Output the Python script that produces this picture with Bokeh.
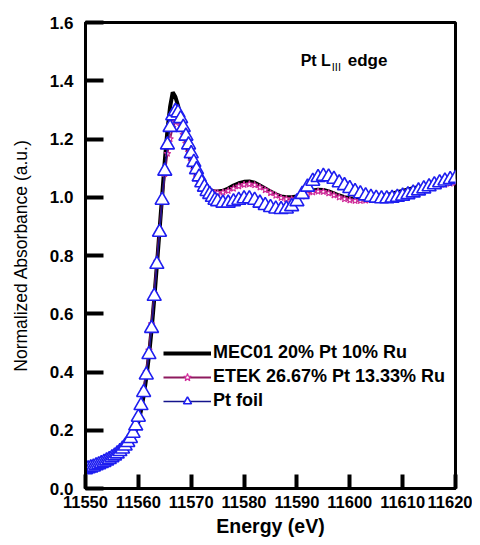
from bokeh.plotting import figure
from bokeh.models import Range1d, FixedTicker, PrintfTickFormatter, Label, Legend, LegendItem
from bokeh.embed import file_html
from bokeh.resources import INLINE

# ---- data ----
energy_fine = [11550.0, 11550.5, 11551.0, 11551.5, 11552.0, 11552.5, 11553.0, 11553.5, 11554.0, 11554.5,
               11555.0, 11555.5, 11556.0, 11556.5, 11557.0, 11557.5, 11558.0, 11558.5, 11559.0, 11559.5,
               11560.0, 11560.5, 11561.0, 11561.5, 11562.0, 11562.5, 11563.0, 11563.5, 11564.0, 11564.5,
               11565.0, 11565.5, 11566.0, 11566.5, 11567.0, 11567.5, 11568.0, 11568.5, 11569.0, 11569.5,
               11570.0, 11570.5, 11571.0, 11571.5, 11572.0, 11572.5, 11573.0, 11573.5, 11574.0, 11574.5,
               11575.0]
energy_coarse = [11576, 11577, 11578, 11579, 11580, 11581, 11582, 11583, 11584, 11585,
                 11586, 11587, 11588, 11589, 11590, 11591, 11592, 11593, 11594, 11595,
                 11596, 11597, 11598, 11599, 11600, 11601, 11602, 11603, 11604, 11605,
                 11606, 11607, 11608, 11609, 11610, 11611, 11612, 11613, 11614, 11615,
                 11616, 11617, 11618, 11619, 11620]

mec01_fine = [0.058, 0.061, 0.064, 0.067, 0.070, 0.074, 0.078, 0.082, 0.086, 0.091,
              0.096, 0.102, 0.108, 0.115, 0.123, 0.133, 0.145, 0.159, 0.176, 0.198,
              0.228, 0.268, 0.318, 0.38, 0.455, 0.545, 0.65, 0.765, 0.885, 1.005,
              1.125, 1.23, 1.31, 1.36, 1.345, 1.315, 1.275, 1.23, 1.19, 1.15,
              1.12, 1.095, 1.075, 1.058, 1.045, 1.036, 1.03, 1.025, 1.022, 1.02,
              1.02]
mec01_coarse = [1.022, 1.03, 1.04, 1.048, 1.053, 1.054, 1.05, 1.04, 1.03, 1.02,
                1.01, 1.003, 1.0, 1.0, 1.003, 1.01, 1.018, 1.023, 1.026, 1.025,
                1.02, 1.013, 1.006, 1.0, 0.997, 0.995, 0.995, 0.996, 0.998, 1.0,
                1.003, 1.007, 1.012, 1.017, 1.022, 1.027, 1.031, 1.034, 1.037, 1.04,
                1.043, 1.046, 1.05, 1.053, 1.056]

etek_fine = [0.062, 0.065, 0.068, 0.071, 0.075, 0.079, 0.083, 0.087, 0.092, 0.097,
             0.103, 0.109, 0.116, 0.124, 0.133, 0.144, 0.157, 0.172, 0.192, 0.218,
             0.25, 0.29, 0.34, 0.40, 0.475, 0.565, 0.67, 0.78, 0.89, 0.99,
             1.08, 1.15, 1.20, 1.24, 1.26, 1.26, 1.245, 1.215, 1.185, 1.155,
             1.125, 1.095, 1.07, 1.052, 1.04, 1.031, 1.025, 1.02, 1.017, 1.015,
             1.015]
etek_coarse = [1.017, 1.022, 1.03, 1.038, 1.043, 1.045, 1.042, 1.034, 1.025, 1.015,
               1.006, 0.998, 0.994, 0.993, 0.996, 1.003, 1.011, 1.017, 1.02, 1.019,
               1.014, 1.007, 1.0, 0.994, 0.99, 0.988, 0.988, 0.989, 0.991, 0.994,
               0.997, 1.001, 1.006, 1.011, 1.016, 1.021, 1.025, 1.029, 1.032, 1.035,
               1.038, 1.041, 1.044, 1.047, 1.05]

ptfoil_fine = [0.065, 0.068, 0.071, 0.074, 0.078, 0.082, 0.086, 0.090, 0.095, 0.100,
               0.106, 0.112, 0.119, 0.127, 0.136, 0.146, 0.158, 0.172, 0.19, 0.215,
               0.245, 0.285, 0.33, 0.39, 0.46, 0.55, 0.66, 0.77, 0.88, 0.99,
               1.09, 1.18, 1.24, 1.28, 1.295, 1.29, 1.27, 1.24, 1.21, 1.18,
               1.15, 1.12, 1.095, 1.07, 1.05, 1.035, 1.02, 1.01, 1.0, 0.99,
               0.985]
ptfoil_coarse = [0.98, 0.98, 0.985, 0.99, 0.995, 0.995, 0.99, 0.98, 0.972, 0.965,
                 0.96, 0.958, 0.96, 0.968, 0.985, 1.01, 1.035, 1.055, 1.068, 1.072,
                 1.07, 1.062, 1.05, 1.04, 1.03, 1.02, 1.012, 1.005, 1.0, 0.997,
                 0.995, 0.995, 0.997, 1.0, 1.004, 1.009, 1.015, 1.022, 1.029, 1.036,
                 1.043, 1.05, 1.056, 1.061, 1.065]

x_ticks = [11550, 11560, 11570, 11580, 11590, 11600, 11610, 11620]
y_ticks = [0.0, 0.2, 0.4, 0.6, 0.8, 1.0, 1.2, 1.4, 1.6]
series_names = ["MEC01 20% Pt 10% Ru", "ETEK 26.67% Pt 13.33% Ru", "Pt foil"]

energy = energy_fine + energy_coarse
mec01 = mec01_fine + mec01_coarse
etek = etek_fine + etek_coarse
ptfoil = ptfoil_fine + ptfoil_coarse

FONT = "Liberation Sans"

p = figure(frame_width=370, frame_height=466, output_backend="svg", toolbar_location=None,
           x_range=Range1d(11550, 11620), y_range=Range1d(0, 1.6),
           min_border_left=85, min_border_top=22, min_border_right=17, min_border_bottom=52,
           background_fill_color="white", border_fill_color="white")
p.grid.visible = False
p.outline_line_color = "black"
p.outline_line_width = 3

for ax in (p.xaxis[0], p.yaxis[0]):
    ax.axis_line_width = 3
    ax.axis_line_color = "black"
    ax.major_tick_line_width = 4
    ax.major_tick_line_color = "black"
    ax.major_tick_out = 0
    ax.minor_tick_line_color = None
    ax.major_label_text_font = FONT
    ax.major_label_text_font_style = "bold"
    ax.major_label_text_color = "black"
    ax.axis_label_text_font = FONT
    ax.axis_label_text_color = "black"

p.xaxis.major_label_text_font_size = "16.5px"
p.yaxis.major_label_text_font_size = "17px"
p.xaxis.ticker = FixedTicker(ticks=x_ticks)
p.yaxis.ticker = FixedTicker(ticks=y_ticks)
p.xaxis.formatter = PrintfTickFormatter(format="%d")
p.yaxis.formatter = PrintfTickFormatter(format="%.1f")
p.yaxis.major_tick_in = 18
p.xaxis.major_tick_in = 14
p.yaxis.major_label_standoff = 12
p.xaxis.major_label_standoff = 7
p.xaxis.axis_label = "Energy (eV)"
p.yaxis.axis_label = "Normalized Absorbance (a.u.)"
p.xaxis.axis_label_text_font_style = "bold"
p.xaxis.axis_label_text_font_size = "19.5px"
p.yaxis.axis_label_text_font_style = "normal"
p.yaxis.axis_label_text_font_size = "17.5px"
p.xaxis.axis_label_standoff = 4
p.yaxis.axis_label_standoff = 16

r_mec = p.line(energy, mec01, line_color="black", line_width=4)
r_etek_l = p.line(energy, etek, line_color="#8e1a5e", line_width=2)
r_etek_m = p.scatter(energy, etek, marker="star", size=7, line_color="#d02a9a",
                     fill_color="white", line_width=1.1)
r_pt_l = p.line(energy, ptfoil, line_color="#14148c", line_width=1.5)
r_pt_m = p.scatter(energy, ptfoil, marker="triangle", size=14, line_color="#1e1ef0",
                   fill_color="white", line_width=1.6)

legend = Legend(items=[LegendItem(label=series_names[0], renderers=[r_mec]),
                       LegendItem(label=series_names[1], renderers=[r_etek_l, r_etek_m]),
                       LegendItem(label=series_names[2], renderers=[r_pt_l, r_pt_m])],
                location=(78, 77), padding=0, margin=0, spacing=3,
                label_height=20, glyph_height=20, glyph_width=48, label_standoff=2,
                border_line_alpha=0, background_fill_alpha=0,
                label_text_font=FONT, label_text_font_style="bold",
                label_text_font_size="18px", label_text_color="black")
p.add_layout(legend)

p.add_layout(Label(x=11590.7, y=1.4695, text="Pt L", text_font=FONT, text_font_style="bold",
                   text_font_size="16px", text_baseline="alphabetic", text_color="black"))
p.add_layout(Label(x=11596.6, y=1.447, text="III", text_font=FONT, text_font_style="normal",
                   text_font_size="11px", text_baseline="alphabetic", text_color="black"))
p.add_layout(Label(x=11599.6, y=1.4695, text="edge", text_font=FONT, text_font_style="bold",
                   text_font_size="17px", text_baseline="alphabetic", text_color="black"))

open("out.html", "w").write(file_html(p, INLINE))
